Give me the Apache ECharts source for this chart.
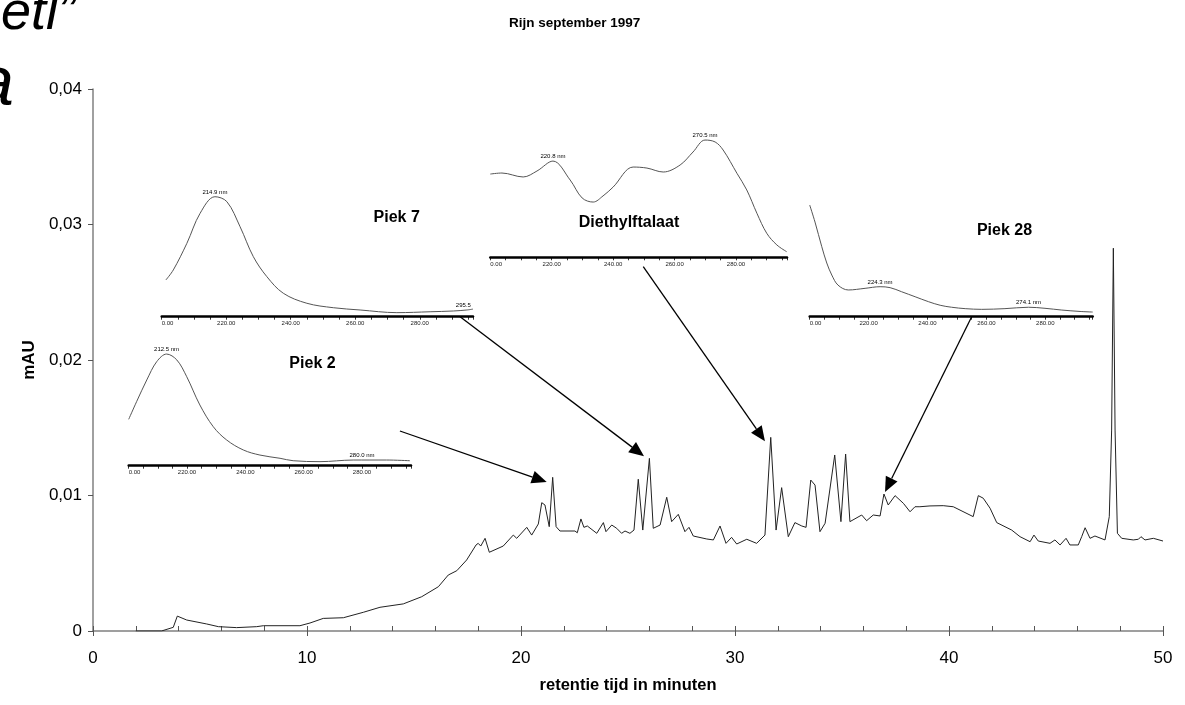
<!DOCTYPE html>
<html><head><meta charset="utf-8">
<script src="https://cdn.jsdelivr.net/npm/echarts@6/dist/echarts.min.js"></script>
<style>html,body{margin:0;padding:0;background:#fff}#c{width:1185px;height:705px}</style>
</head><body><div id="c"></div>
<script>
// ---------- main chromatogram ----------
const chromTime = [2.0,3.2,3.75,3.94,4.03,4.38,5.31,5.86,6.71,7.65,7.96,9.67,10.14,10.76,11.7,12.63,13.41,14.5,15.36,16.14,16.6,17.0,17.46,17.9,18.0,18.12,18.32,18.52,19.17,19.64,19.8,20.27,20.5,20.81,20.97,21.12,21.32,21.48,21.64,21.82,22.52,22.63,22.8,22.94,23.1,23.54,23.85,23.97,24.24,24.47,24.7,24.86,25.09,25.28,25.48,25.69,26.0,26.18,26.5,26.81,27.04,27.35,27.66,27.85,28.05,28.68,28.99,29.3,29.58,29.84,30.08,30.55,31.01,31.4,31.67,31.92,32.18,32.49,32.8,33.12,33.32,33.54,33.74,33.97,34.21,34.66,34.95,35.17,35.37,35.92,36.15,36.46,36.78,36.96,37.16,37.48,37.87,38.18,38.41,38.64,39.11,39.73,40.2,41.13,41.37,41.6,41.92,42.23,42.93,43.32,43.79,43.97,44.17,44.72,44.95,45.19,45.47,45.65,46.04,46.2,46.36,46.59,46.82,47.29,47.49,47.6,47.68,47.76,47.87,48.07,48.61,48.85,48.97,49.16,49.55,50.0];
const chromValue = [0,0,0.00027,0.0011,0.00118,0.00081,0.00052,0.00032,0.00025,0.00032,0.00039,0.00039,0.00059,0.00093,0.00098,0.00138,0.00175,0.002,0.00253,0.00327,0.00413,0.00445,0.00524,0.00635,0.00647,0.00627,0.00684,0.00581,0.00627,0.00708,0.00684,0.00765,0.00708,0.0079,0.00947,0.0093,0.0077,0.01134,0.0077,0.00738,0.00738,0.00725,0.00827,0.00765,0.00775,0.00721,0.008,0.00733,0.00782,0.00758,0.00721,0.00738,0.00721,0.00745,0.0112,0.00745,0.01274,0.00758,0.00782,0.00987,0.00807,0.00861,0.00733,0.00765,0.00701,0.00679,0.00672,0.00775,0.00647,0.00691,0.00642,0.00677,0.00647,0.00708,0.01429,0.00745,0.01058,0.00696,0.008,0.00775,0.00765,0.01114,0.01077,0.00733,0.00795,0.01299,0.00807,0.01306,0.00807,0.00856,0.00814,0.00856,0.00849,0.01011,0.0093,0.00999,0.00942,0.0088,0.00917,0.00917,0.00923,0.00925,0.00917,0.00844,0.00999,0.0098,0.00906,0.008,0.00745,0.00696,0.00659,0.00708,0.00664,0.00647,0.00672,0.00635,0.00684,0.00635,0.00635,0.00696,0.00762,0.00684,0.00701,0.00672,0.00844,0.01483,0.02825,0.01483,0.00721,0.00684,0.00672,0.00677,0.00696,0.00672,0.00684,0.00664];
const xTickLabels = ['0','10','20','30','40','50'];
const yTickLabels = ['0','0,01','0,02','0,03','0,04'];

// ---------- UV spectra (relative absorbance) ----------
const piek2Wl  = [200,202.7,206.2,209.6,213.0,216.5,219.9,224.4,229.0,233.6,239.3,245.0,251.9,256.4,265.6,277.0,288.4,296.4];
const piek2Abs = [0.401,0.553,0.741,0.899,0.965,0.914,0.769,0.525,0.337,0.222,0.136,0.092,0.064,0.043,0.035,0.049,0.049,0.043];
const piek2Peaks = [{wl:213.0,text:'212.5 nm'},{wl:280.0,text:'280.0 nm'}];

const piek7Wl  = [201.3,203.6,207.8,211.9,216.5,220.2,224.3,228.4,232.6,237.7,245.0,253.2,261.5,272.9,283.2,290.4,294.6,296.5];
const piek7Abs = [0.29,0.369,0.579,0.816,0.947,0.908,0.71,0.474,0.316,0.185,0.106,0.071,0.053,0.032,0.039,0.045,0.053,0.06];
const piek7Peaks = [{wl:216.5,text:'214.9 nm'},{wl:293.5,text:'295.5'}];

const diethylWl  = [200,203.8,210.7,215.2,220.4,226.0,229.9,233.5,236.7,240.0,246.5,251.0,256.3,261.8,266.0,269.9,273.2,275.8,280.3,283.5,286.8,290.0,293.3,296.5];
const diethylAbs = [0.654,0.662,0.631,0.678,0.756,0.607,0.466,0.434,0.482,0.552,0.709,0.701,0.670,0.725,0.827,0.921,0.906,0.843,0.66,0.529,0.346,0.189,0.097,0.044];
const diethylPeaks = [{wl:220.4,text:'220.8 nm'},{wl:269.9,text:'270.5 nm'}];

const piek28Wl  = [200,201.8,204.1,205.8,207.5,209.6,213.1,218.8,223.9,227.3,231.2,235.8,240.3,244.3,248.2,252.8,258.4,266.3,274.3,279.9,285.6,291.8,296.1];
const piek28Abs = [0.957,0.811,0.6,0.46,0.357,0.271,0.229,0.243,0.257,0.249,0.214,0.171,0.129,0.098,0.081,0.069,0.063,0.069,0.081,0.072,0.057,0.045,0.04];
const piek28Peaks = [{wl:223.9,text:'224.3 nm'},{wl:274.3,text:'274.1 nm'}];

const insetTickLabels = ['0.00','220.00','240.00','260.00','280.00'];
const insetNames = ['Piek 2','Piek 7','Diethylftalaat','Piek 28'];

// arrows: from inset (wavelength, rel. abs) to chromatogram (time, mAU)
const arrowInset = [0,1,2,3];
const arrowFromWl = [293.0,292.5,249.8,255.0];
const arrowFromAbs = [0.30,0.0,-0.074,0.0];
const arrowToTime = [21.2,25.75,31.40,37.01];
const arrowToValue = [0.0110,0.0129,0.0140,0.01026];

// ---------- layout ----------
const FONT = '"Liberation Sans", Arial, Helvetica, sans-serif';
const insets = [
  {wl:piek2Wl, abs:piek2Abs, peaks:piek2Peaks, max:296.8, grid:{left:128.7, top:350, width:282.3, height:115.7}, namePos:[312.5,364]},
  {wl:piek7Wl, abs:piek7Abs, peaks:piek7Peaks, max:296.5, grid:{left:161.7, top:190, width:311.3, height:126.7}, namePos:[396.7,217.5]},
  {wl:diethylWl, abs:diethylAbs, peaks:diethylPeaks, max:296.6, grid:{left:490.3, top:130, width:296.7, height:127.3}, namePos:[629,222.5]},
  {wl:piek28Wl, abs:piek28Abs, peaks:piek28Peaks, max:296.1, grid:{left:809.7, top:200, width:283, height:116.7}, namePos:[1004.5,231]}
];

function interp(xs, ys, x){
  for (let i=0;i<xs.length-1;i++){
    if (x>=xs[i] && x<=xs[i+1]){ const f=(x-xs[i])/(xs[i+1]-xs[i]); return ys[i]+f*(ys[i+1]-ys[i]); }
  }
  return x<xs[0]?ys[0]:ys[ys.length-1];
}
function insetLabel(v){
  const i = (v-200)/20, r = Math.round(i);
  return (Math.abs(i-r)<1e-6 && insetTickLabels[r]!==undefined) ? insetTickLabels[r] : '';
}

const chart = echarts.init(document.getElementById('c'), null, {renderer:'canvas'});

const grids = [{left:93, top:89, width:1070, height:542, outerBoundsMode:'none'}];
const xAxes = [
  {gridIndex:0, type:'value', min:0, max:50, interval:10, position:'bottom',
   axisLine:{show:true, lineStyle:{color:'#808080', width:1.5}},
   axisTick:{show:true, inside:false, length:5, lineStyle:{color:'#555', width:1}},
   axisLabel:{fontSize:17, color:'#000', fontFamily:FONT, margin:19, formatter:v=>xTickLabels[Math.round(v/10)]},
   splitLine:{show:false},
   name:'retentie tijd in minuten', nameLocation:'middle', nameGap:46,
   nameTextStyle:{fontSize:16.5, fontWeight:'bold', color:'#000', fontFamily:FONT}},
  {gridIndex:0, type:'value', min:0, max:50, interval:2, position:'bottom',
   axisLine:{show:false}, axisTick:{show:true, inside:true, length:5, lineStyle:{color:'#555', width:1}},
   axisLabel:{show:false}, splitLine:{show:false}}
];
const yAxes = [
  {gridIndex:0, type:'value', min:0, max:0.04, interval:0.01,
   axisLine:{show:true, lineStyle:{color:'#808080', width:1.5}},
   axisTick:{show:true, inside:false, length:5, lineStyle:{color:'#555', width:1}},
   axisLabel:{fontSize:17, color:'#000', fontFamily:FONT, margin:11, formatter:v=>yTickLabels[Math.round(v/0.01)]},
   splitLine:{show:false},
   name:'mAU', nameLocation:'middle', nameGap:52, nameRotate:90,
   nameTextStyle:{fontSize:17, fontWeight:'bold', color:'#000', fontFamily:FONT}}
];
const series = [{
  type:'line', xAxisIndex:0, yAxisIndex:0, showSymbol:false, symbol:'none',
  data: chromTime.map((t,i)=>[t, chromValue[i]]),
  lineStyle:{color:'#222', width:1}, z:3, silent:true
}];

insets.forEach((ins, k)=>{
  grids.push(Object.assign({outerBoundsMode:'none'}, ins.grid));
  xAxes.push({gridIndex:k+1, type:'value', min:200, max:ins.max, interval:20,
    axisLine:{show:true, lineStyle:{color:'#000', width:2.5}},
    axisTick:{show:true, inside:false, length:3, lineStyle:{color:'#000', width:0.8}},
    minorTick:{show:true, splitNumber:4, length:3, lineStyle:{color:'#000', width:0.8}},
    axisLabel:{fontSize:6, color:'#222', fontFamily:FONT, margin:4, alignMinLabel:'left', formatter:insetLabel},
    splitLine:{show:false}, minorSplitLine:{show:false}});
  yAxes.push({gridIndex:k+1, type:'value', min:0, max:1, show:false});
  series.push({
    type:'line', xAxisIndex:k+2, yAxisIndex:k+1, showSymbol:false, symbol:'none', smooth:0.35,
    data: ins.wl.map((w,i)=>[w, ins.abs[i]]),
    lineStyle:{color:'#555', width:1}, silent:true, z:4,
    markPoint:{symbol:'circle', symbolSize:1, itemStyle:{color:'rgba(0,0,0,0)'}, silent:true,
      label:{show:true, position:'top', distance:1, fontSize:6, color:'#000', fontFamily:FONT, formatter:p=>p.name},
      data: ins.peaks.map(p=>({name:p.text, coord:[p.wl, interp(ins.wl, ins.abs, p.wl)]}))}
  });
});

chart.setOption({
  animation:false,
  backgroundColor:'#fff',
  title:{text:'Rijn september 1997', left:509, top:16, padding:0,
    textStyle:{fontSize:13.5, fontWeight:'bold', color:'#000', fontFamily:FONT}},
  grid:grids, xAxis:xAxes, yAxis:yAxes, series:series
});

// ---------- annotations ----------
const graphics = [];
insets.forEach((ins,k)=>{
  graphics.push({type:'text', x:ins.namePos[0], y:ins.namePos[1], silent:true, z:10,
    style:{text:insetNames[k], fontSize:16, fontWeight:'bold', fontFamily:FONT, fill:'#000', align:'center', verticalAlign:'middle'}});
});
graphics.push({type:'text', x:76, y:41, silent:true,
  style:{text:'etl\u201d', fontSize:54, fontStyle:'italic', fontFamily:FONT, fill:'#000', align:'right', verticalAlign:'bottom'}});
graphics.push({type:'text', x:14, y:121, silent:true,
  style:{text:'a', fontSize:70, fontStyle:'italic', fontFamily:FONT, fill:'#000', align:'right', verticalAlign:'bottom'}});

arrowInset.forEach((k,i)=>{
  const p0 = chart.convertToPixel({xAxisIndex:k+2, yAxisIndex:k+1}, [arrowFromWl[i], arrowFromAbs[i]]);
  const p1 = chart.convertToPixel({xAxisIndex:0, yAxisIndex:0}, [arrowToTime[i], arrowToValue[i]]);
  const dx=p1[0]-p0[0], dy=p1[1]-p0[1], L=Math.hypot(dx,dy), ux=dx/L, uy=dy/L;
  const hl=15, hw=6.5;
  const bx=p1[0]-ux*hl, by=p1[1]-uy*hl;
  graphics.push({type:'line', silent:true, z:10, shape:{x1:p0[0], y1:p0[1], x2:bx, y2:by}, style:{stroke:'#000', lineWidth:1.3}});
  graphics.push({type:'polygon', silent:true, z:10, shape:{points:[[p1[0],p1[1]],[bx-uy*hw, by+ux*hw],[bx+uy*hw, by-ux*hw]]}, style:{fill:'#000'}});
});
chart.setOption({graphic:graphics});
</script></body></html>
